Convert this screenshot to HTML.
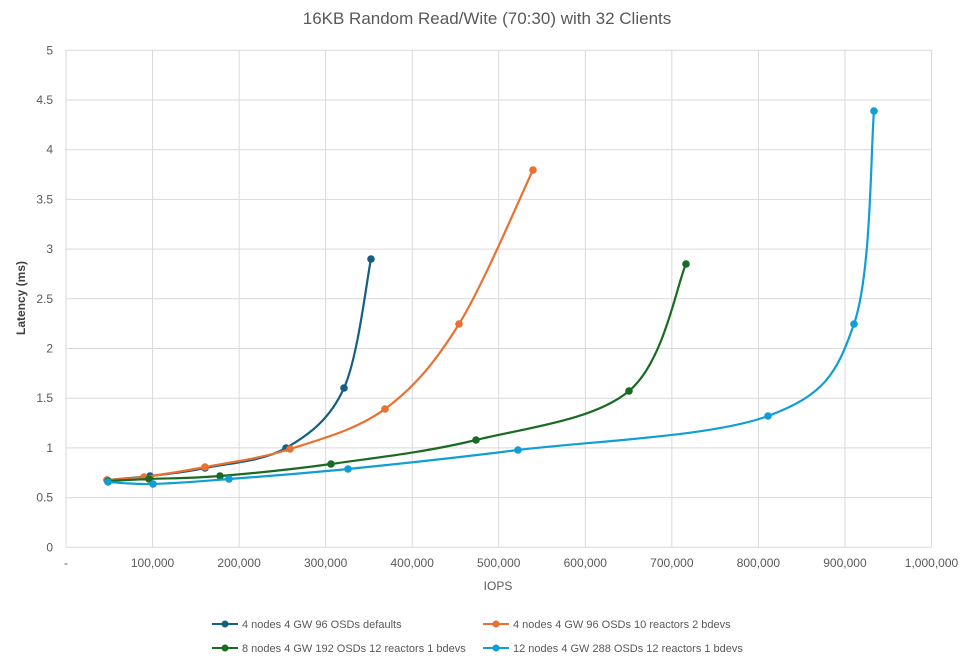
<!DOCTYPE html>
<html><head><meta charset="utf-8"><style>
body{margin:0;background:#fff;width:975px;height:664px;overflow:hidden}
text{font-family:"Liberation Sans",sans-serif}
</style></head><body>
<svg id="s" width="975" height="664" xmlns="http://www.w3.org/2000/svg">
<rect width="975" height="664" fill="#fff"/>
<text x="487" y="24" text-anchor="middle" font-size="17" fill="#595959">16KB Random Read/Wite (70:30) with 32 Clients</text>
<g id="grid" stroke="#d9d9d9" stroke-width="1"></g>
<g id="labels" font-size="12" fill="#595959"></g>
<text x="25" y="298" transform="rotate(-90 25 298)" text-anchor="middle" font-size="12" font-weight="bold" fill="#404040">Latency (ms)</text>
<text x="498" y="590" text-anchor="middle" font-size="12" fill="#595959">IOPS</text>
<g id="series"></g>
<g font-size="11" fill="#595959">
<line x1="212" y1="624" x2="238" y2="624" stroke="#156082" stroke-width="2"/><circle cx="225" cy="624" r="3.5" fill="#156082"/>
<text x="242" y="628">4 nodes 4 GW 96 OSDs defaults</text>
<line x1="483" y1="624" x2="509" y2="624" stroke="#e97132" stroke-width="2"/><circle cx="496" cy="624" r="3.5" fill="#e97132"/>
<text x="513" y="628">4 nodes 4 GW 96 OSDs 10 reactors 2 bdevs</text>
<line x1="212" y1="648" x2="238" y2="648" stroke="#196b24" stroke-width="2"/><circle cx="225" cy="648" r="3.5" fill="#196b24"/>
<text x="242" y="652">8 nodes 4 GW 192 OSDs 12 reactors 1 bdevs</text>
<line x1="483" y1="648" x2="509" y2="648" stroke="#0f9ed5" stroke-width="2"/><circle cx="496" cy="648" r="3.5" fill="#0f9ed5"/>
<text x="513" y="652">12 nodes 4 GW 288 OSDs 12 reactors 1 bdevs</text>
</g>
</svg>
<script>
var NS="http://www.w3.org/2000/svg";
function el(p,t,a){var e=document.createElementNS(NS,t);for(var k in a)e.setAttribute(k,a[k]);document.getElementById(p).appendChild(e);return e;}
var x0=66,xs=86.55,y0=547.3,ys=99.4;
for(var i=0;i<=10;i++){var x=x0+i*xs;el("grid","line",{x1:x,y1:50,x2:x,y2:y0});
var t=el("labels","text",{x:x,y:567,"text-anchor":"middle"});t.textContent=i==0?"-":(i==10?"1,000,000":(i*100)+",000");}
for(var j=0;j<=10;j++){var y=y0-j*0.5*ys;el("grid","line",{x1:x0,y1:y,x2:x0+10*xs,y2:y});
var t=el("labels","text",{x:53,y:y+4,"text-anchor":"end"});t.textContent=(j*0.5).toString();}
var S=[
["#156082",[[107,480],[150,476],[205,468],[286,448],[344,388],[371,259]]],
["#e97132",[[107,480],[144,477],[205,467],[290,449],[385,409],[459,324],[533,170]]],
["#196b24",[[108,481],[149,479],[220,476],[331,464],[476,440],[629,391],[686,264]]],
["#0f9ed5",[[108,482],[153,484],[229,479],[348,469],[518,450],[768,416],[854,324],[874,111]]]];
S.forEach(function(s){var p=s[1],d="M"+p[0];
for(var i=0;i<p.length-1;i++){var a=p[Math.max(0,i-1)],b=p[i],c=p[i+1],e=p[Math.min(p.length-1,i+2)];
var c1=[b[0]+(c[0]-a[0])/6,b[1]+(c[1]-a[1])/6],c2=[c[0]-(e[0]-b[0])/6,c[1]-(e[1]-b[1])/6];
d+=" C"+c1+" "+c2+" "+c;}
el("series","path",{d:d,fill:"none",stroke:s[0],"stroke-width":2.2});
p.forEach(function(q){el("series","circle",{cx:q[0],cy:q[1],r:3.8,fill:s[0]});});});
</script>
</body></html>
